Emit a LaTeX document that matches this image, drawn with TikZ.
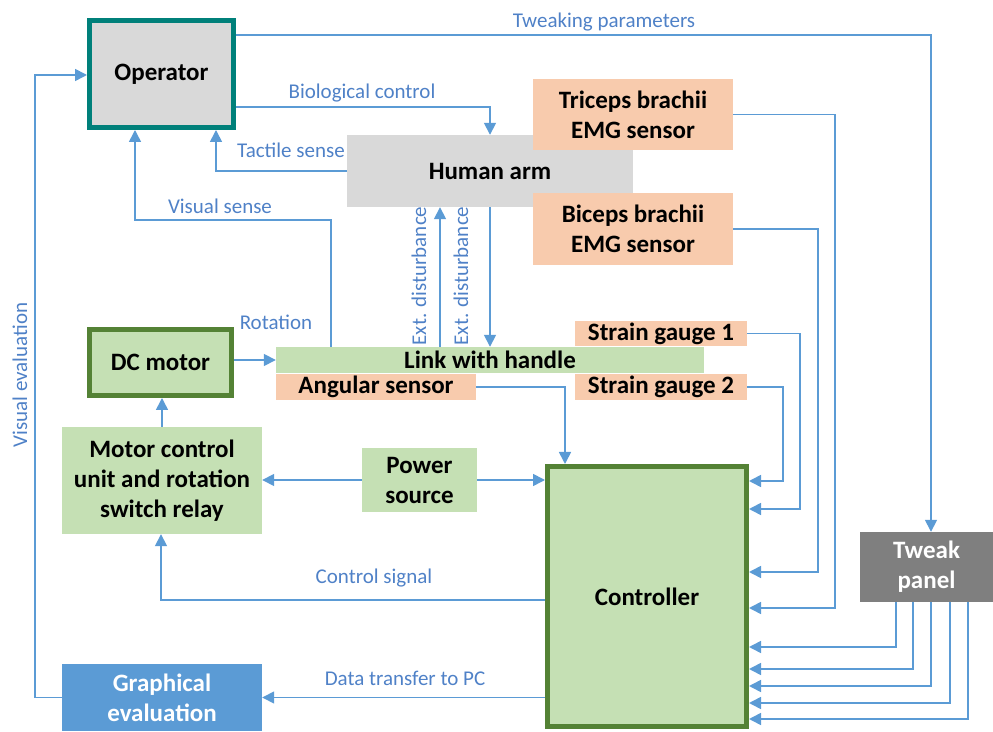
\documentclass[tikz,border=0pt]{standalone}
\usepackage{fontspec}
\setmainfont{Carlito}
\usetikzlibrary{arrows.meta,positioning}

\definecolor{lineblue}{RGB}{91,155,213}
\definecolor{labelblue}{RGB}{79,129,199}
\definecolor{opteal}{RGB}{0,128,122}
\definecolor{armgray}{RGB}{217,217,217}
\definecolor{peach}{RGB}{248,203,173}
\definecolor{lightgreen}{RGB}{197,224,180}
\definecolor{darkgreen}{RGB}{84,130,53}
\definecolor{panelgray}{RGB}{127,127,127}
\definecolor{boxblue}{RGB}{91,155,213}

\tikzset{
  box/.style={align=center, inner sep=0pt, font=\fontsize{25}{30}\selectfont\bfseries},
  thickbox/.style={box, draw, line width=5pt, outer sep=2.5pt},
  lbl/.style={text=labelblue, inner sep=1pt, font=\fontsize{21}{24}\selectfont},
  wire/.style={draw=lineblue, line width=1.6pt},
  arr/.style={wire, -{Triangle[length=12pt,width=12pt]}},
}

\begin{document}
\begin{tikzpicture}[x=1pt,y=1pt]
\useasboundingbox (0,0) rectangle (993,731);

\node[thickbox, draw=opteal, fill=armgray, minimum width=144pt, minimum height=107pt] (op) at (161.5,657) {Operator};
\node[box, fill=armgray, minimum width=286pt, minimum height=72pt] (arm) at (490,560) {Human arm};
\node[box, fill=peach, minimum width=200pt, minimum height=71pt] (tri) at (633,616.5) {Triceps brachii\\EMG sensor};
\node[box, fill=peach, minimum width=200pt, minimum height=72pt] (bic) at (633,502) {Biceps brachii\\EMG sensor};
\node[thickbox, draw=darkgreen, fill=lightgreen, minimum width=142pt, minimum height=66pt] (dc) at (160.5,368.5) {DC motor};
\node[box, fill=lightgreen, minimum width=428pt, minimum height=26pt] (handle) at (490,371) {Link with handle};
\node[box, fill=peach, minimum width=200pt, minimum height=26pt] (ang) at (376,344) {Angular sensor};
\node[box, fill=peach, minimum width=172pt, minimum height=25pt] (sgone) at (661,397.5) {Strain gauge 1};
\node[box, fill=peach, minimum width=172pt, minimum height=26pt] (sgtwo) at (661,344) {Strain gauge 2};
\node[box, fill=lightgreen, minimum width=200pt, minimum height=107pt] (mcu) at (162,250.5) {Motor control\\unit and rotation\\switch relay};
\node[box, fill=lightgreen, minimum width=115pt, minimum height=64pt] (pwr) at (419.5,251) {Power\\source};
\node[thickbox, draw=darkgreen, fill=lightgreen, minimum width=199pt, minimum height=260pt] (ctrl) at (647,134.5) {Controller};
\node[box, fill=panelgray, text=white, minimum width=133pt, minimum height=70pt] (tweak) at (926.5,164) {Tweak\\panel};
\node[box, fill=boxblue, text=white, minimum width=200pt, minimum height=67pt] (graph) at (162,33.5) {Graphical\\evaluation};

\coordinate (tw) at (931,696);
\draw[arr] (op.east |- tw) -- (tw) -- (tw |- tweak.north);
\node[lbl] (twlbl) at (604,709) {Tweaking parameters};

\coordinate (bc) at (490,624);
\draw[arr] (op.east |- bc) -- (bc) -- (arm.north);
\node[lbl] (bclbl) at (362,638) {Biological control};

\coordinate (ts) at (216,560);
\draw[arr] (arm.west) -- (ts) -- (ts |- op.south);
\node[lbl] (tslbl) at (291,581) {Tactile sense};

\coordinate (vsa) at (331,511);
\coordinate (vsb) at (135,511);
\draw[arr] (vsa |- handle.north) -- (vsa) -- (vsb) -- (vsb |- op.south);
\node[lbl] (vslbl) at (220,525) {Visual sense};

\coordinate (eda) at (440,371);
\coordinate (edb) at (490,371);
\draw[arr] (eda |- handle.north) -- (eda |- arm.south);
\draw[arr] (edb |- arm.south) -- (edb |- handle.north);
\node[lbl, rotate=90] (edalbl) at (419,455) {Ext. disturbance};
\node[lbl, rotate=90] (edblbl) at (461,455) {Ext. disturbance};

\draw[arr] (dc.east |- handle.west) -- (handle.west);
\node[lbl] (rotlbl) at (276,409) {Rotation};

\draw[arr] (mcu.north) -- (dc.south -| mcu.north);
\draw[arr] (pwr.west) -- (mcu.east |- pwr.west);
\draw[arr] (pwr.east) -- (ctrl.west |- pwr.east);

\coordinate (as) at (565,344);
\draw[arr] (ang.east) -- (as) -- (as |- ctrl.north);

\coordinate (sa) at (800,222);
\draw[arr] (sgone.east) -| (sa) -- (sa -| ctrl.east);
\coordinate (sb) at (783,250);
\draw[arr] (sgtwo.east) -| (sb) -- (sb -| ctrl.east);
\coordinate (ta) at (835,123);
\draw[arr] (tri.east) -| (ta) -- (ta -| ctrl.east);
\coordinate (ba) at (818,159);
\draw[arr] (bic.east) -| (ba) -- (ba -| ctrl.east);

\foreach \px/\py in {896/84, 913/62, 931/45, 950/28, 968/12} {
  \coordinate (tp) at (\px,\py);
  \draw[arr] (tp |- tweak.south) -- (tp) -- (tp -| ctrl.east);
}

\coordinate (cs) at (161,131);
\draw[arr] (cs -| ctrl.west) -- (cs) -- (cs |- mcu.south);
\node[lbl] (cslbl) at (374,153) {Control signal};

\draw[arr] (ctrl.west |- graph.east) -- (graph.east);
\node[lbl] (dtlbl) at (405,53) {Data transfer to PC};

\coordinate (ve) at (35,656);
\draw[arr] (graph.west) -| (ve) -- (op.west |- ve);
\node[lbl, rotate=90] (velbl) at (20,356) {Visual evaluation};
\end{tikzpicture}
\end{document}
